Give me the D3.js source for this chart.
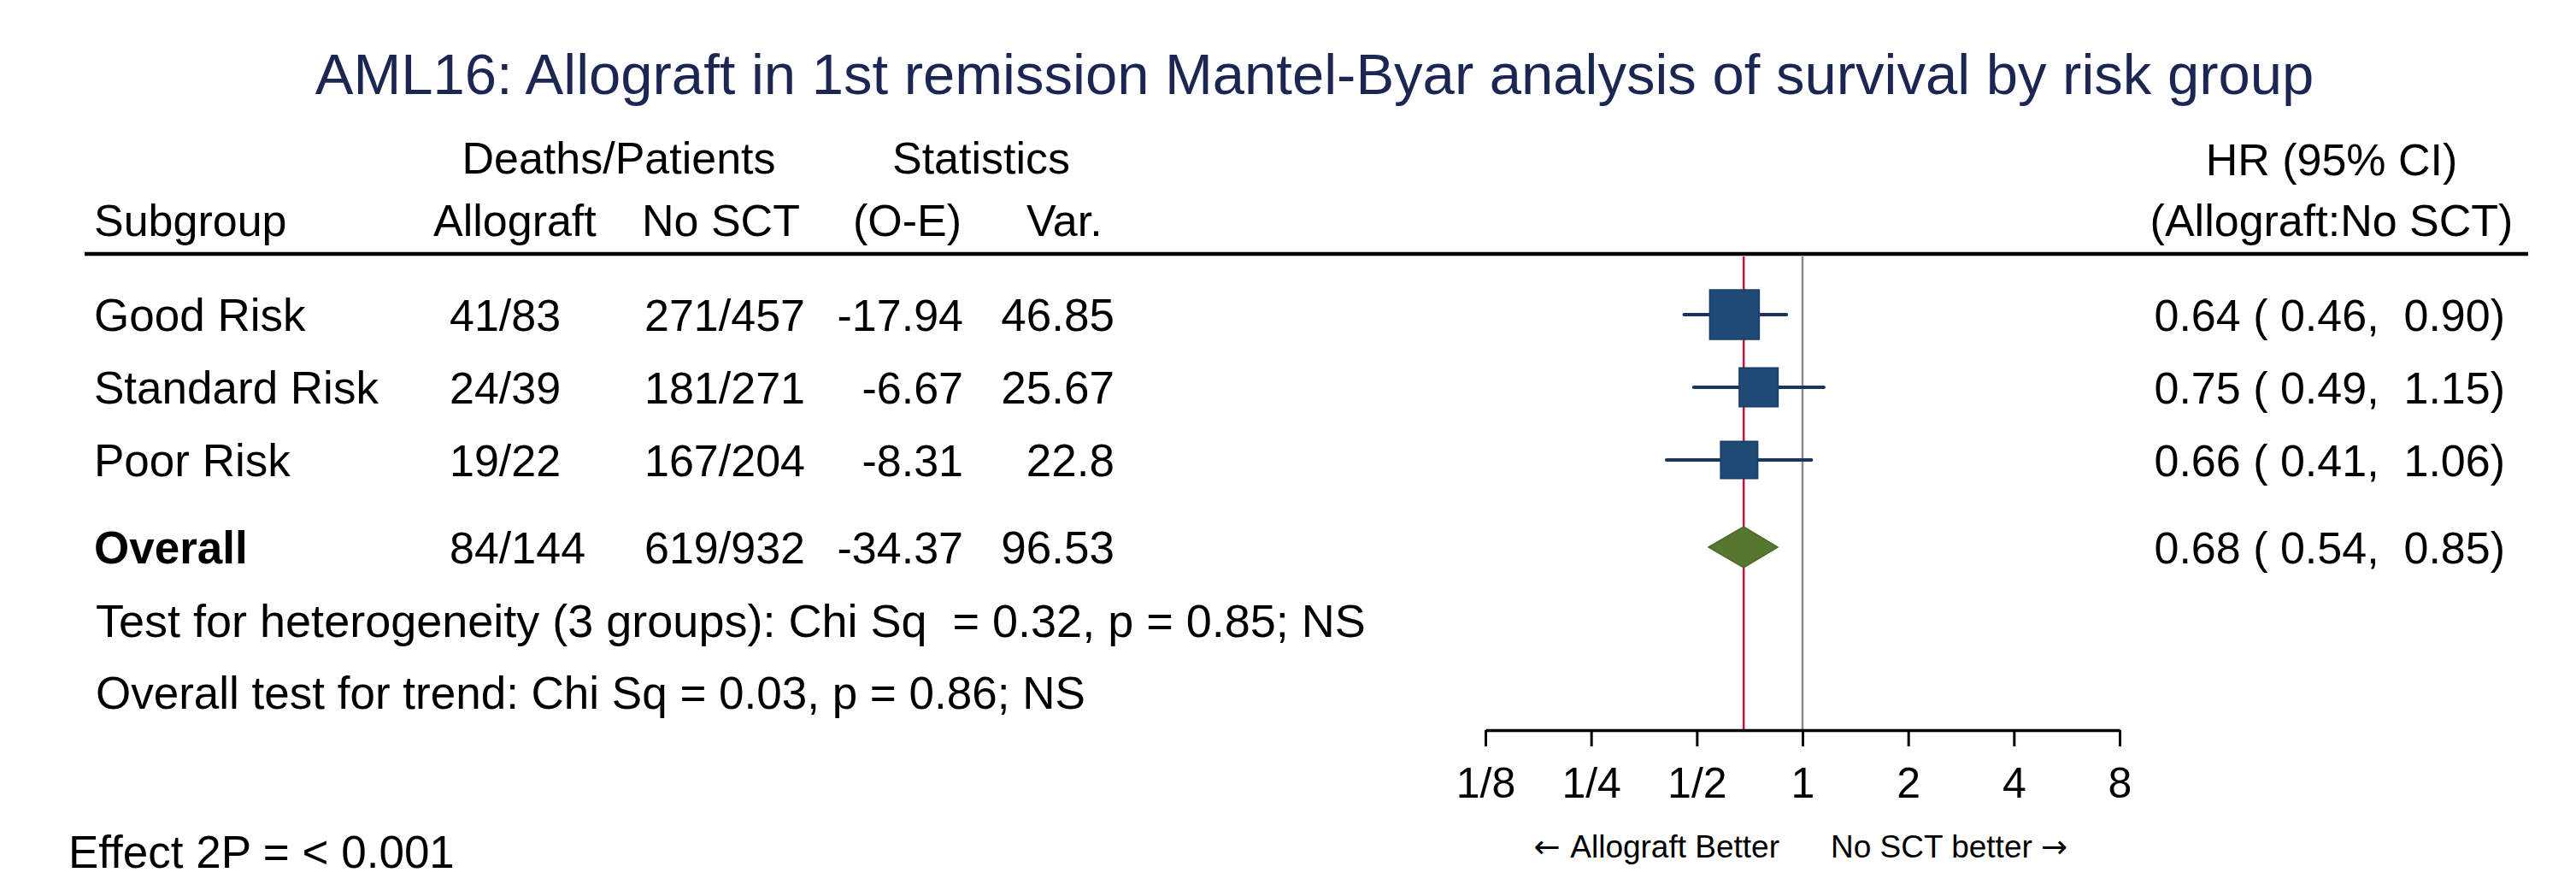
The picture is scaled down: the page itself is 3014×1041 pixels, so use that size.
<!DOCTYPE html>
<html>
<head>
<meta charset="utf-8">
<script src="https://cdn.jsdelivr.net/npm/d3@7"></script>
<style>
  body { margin: 0; background: #fff; }
  text { font-family: "Liberation Sans", Arial, sans-serif; fill: #000; }
</style>
</head>
<body>
<div id="chart1"></div>
<script>

let subgroups = ['Good Risk', 'Standard Risk', 'Poor Risk', 'Overall'];
let allograftDP = ['41/83', '24/39', '19/22', '84/144'];
let noSctDP = ['271/457', '181/271', '167/204', '619/932'];
let oMinusE = ['-17.94', '-6.67', '-8.31', '-34.37'];
let variance = [46.85, 25.67, 22.8, 96.53];
let hr = [0.64, 0.75, 0.66, 0.68];
let ciLow = [0.46, 0.49, 0.41, 0.54];
let ciHigh = [0.90, 1.15, 1.06, 0.85];

let tickValues = [1/8, 1/4, 1/2, 1, 2, 4, 8];
let tickLabels = ['1/8', '1/4', '1/2', '1', '2', '4', '8'];

let title = 'AML16: Allograft in 1st remission Mantel-Byar analysis of survival by risk group';
let heterogeneity = 'Test for heterogeneity (3 groups): Chi Sq  = 0.32, p = 0.85; NS';
let trend = 'Overall test for trend: Chi Sq = 0.03, p = 0.86; NS';
let effect = 'Effect 2P = < 0.001';


let dim = {
    'width': 3014,
    'height': 1041
};

let svg = d3.select("#chart1").append("svg")
     .attr('width', dim.width)
     .attr('height', dim.height);

let fmt = d3.format('5.2f');

let data = subgroups.map((s, i) => ({
     name: s,
     allo: allograftDP[i],
     nosct: noSctDP[i],
     oe: oMinusE[i],
     v: variance[i],
     hr: hr[i],
     lo: ciLow[i],
     hi: ciHigh[i],
     overall: s == 'Overall'
}));

let scaleX = d3.scaleLog()
     .base(2)
     .domain([1/8, 8])
     .range([1738, 2480]);

// row index -> centre of the row, overall row pushed down a bit
let scaleRow = d3.scaleLinear()
     .domain([0, 1])
     .range([368, 453]);

function rowY(d, i) {
     return scaleRow(d.overall ? i + 0.2 : i);
}

let boxSize = d3.scaleSqrt()
     .domain([0, d3.max(data.filter(d => !d.overall), d => d.v)])
     .range([10, 58]);


// title
svg.append('text')
     .attr('x', 1538)
     .attr('y', 110)
     .attr('text-anchor', 'middle')
     .style('font-size', '67px')
     .style('fill', '#1b2653')
     .text(title);

// column headers
let headers = [
     {t: 'Deaths/Patients', x: 724, y: 203, a: 'middle'},
     {t: 'Statistics', x: 1148, y: 203, a: 'middle'},
     {t: 'HR (95% CI)', x: 2728, y: 205, a: 'middle'},
     {t: 'Subgroup', x: 110, y: 276, a: 'start'},
     {t: 'Allograft', x: 507, y: 276, a: 'start'},
     {t: 'No SCT', x: 751, y: 276, a: 'start'},
     {t: '(O-E)', x: 998, y: 276, a: 'start'},
     {t: 'Var.', x: 1201, y: 276, a: 'start'},
     {t: '(Allograft:No SCT)', x: 2728, y: 276, a: 'middle'}
];

svg.selectAll('.header')
     .data(headers)
     .join('text')
     .attr('class', 'header')
     .attr('x', d => d.x)
     .attr('y', d => d.y)
     .attr('text-anchor', d => d.a)
     .style('font-size', '52px')
     .text(d => d.t);

svg.append('line')
     .attr('x1', 99)
     .attr('x2', 2958)
     .attr('y1', 297)
     .attr('y2', 297)
     .attr('stroke', '#000')
     .attr('stroke-width', 4.5);


// reference lines
let axisY = 854;

svg.append('line')
     .attr('x1', scaleX(1))
     .attr('x2', scaleX(1))
     .attr('y1', 300)
     .attr('y2', axisY)
     .attr('stroke', '#8a8a8a')
     .attr('stroke-width', 2.5);

let overallRow = data.find(d => d.overall);

svg.append('line')
     .attr('x1', scaleX(overallRow.hr))
     .attr('x2', scaleX(overallRow.hr))
     .attr('y1', 300)
     .attr('y2', axisY)
     .attr('stroke', '#c8143c')
     .attr('stroke-width', 2.5);


// table rows
let rows = svg.selectAll('.row')
     .data(data)
     .join('g')
     .attr('class', 'row')
     .attr('transform', (d, i) => `translate(0, ${rowY(d, i) + 19})`);

rows.append('text')
     .attr('x', 110)
     .style('font-size', '53px')
     .style('font-weight', d => d.overall ? 'bold' : 'normal')
     .text(d => d.name);

rows.append('text')
     .attr('x', 526)
     .style('font-size', '52px')
     .text(d => d.allo);

rows.append('text')
     .attr('x', 848)
     .attr('text-anchor', 'middle')
     .style('font-size', '52px')
     .text(d => d.nosct);

rows.append('text')
     .attr('x', 1127)
     .attr('text-anchor', 'end')
     .style('font-size', '52px')
     .text(d => d.oe);

rows.append('text')
     .attr('x', 1304)
     .attr('text-anchor', 'end')
     .style('font-size', '53px')
     .text(d => d.v);

rows.append('text')
     .attr('x', 2931)
     .attr('text-anchor', 'end')
     .attr('xml:space', 'preserve')
     .style('white-space', 'pre')
     .style('font-size', '52px')
     .text(d => `${d.hr.toFixed(2)} (${fmt(d.lo)}, ${fmt(d.hi)})`);


// CI lines and boxes
let marks = svg.selectAll('.mark')
     .data(data)
     .join('g')
     .attr('class', 'mark')
     .attr('transform', (d, i) => `translate(0, ${rowY(d, i)})`);

marks.filter(d => !d.overall)
     .append('line')
     .attr('x1', d => scaleX(d.lo))
     .attr('x2', d => scaleX(d.hi))
     .attr('stroke', '#17375e')
     .attr('stroke-width', 4)
     .attr('stroke-linecap', 'round');

marks.filter(d => !d.overall)
     .append('rect')
     .attr('x', d => scaleX(d.hr) - boxSize(d.v) / 2)
     .attr('y', d => -boxSize(d.v) / 2)
     .attr('width', d => boxSize(d.v))
     .attr('height', d => boxSize(d.v))
     .attr('fill', '#1f4a76')
     .attr('stroke', '#183c64')
     .attr('stroke-width', 1.5);

marks.filter(d => d.overall)
     .append('path')
     .attr('d', d => `M${scaleX(d.lo)},0 L${scaleX(d.hr)},-24 L${scaleX(d.hi)},0 L${scaleX(d.hr)},24 Z`)
     .attr('fill', '#56772f')
     .attr('stroke', '#4a6828')
     .attr('stroke-width', 1.5);


// notes
svg.append('text')
     .attr('x', 112)
     .attr('y', 745)
     .attr('xml:space', 'preserve')
     .style('white-space', 'pre')
     .style('font-size', '54px')
     .text(heterogeneity);

svg.append('text')
     .attr('x', 112)
     .attr('y', 829)
     .style('font-size', '53px')
     .text(trend);

svg.append('text')
     .attr('x', 80)
     .attr('y', 1015)
     .style('font-size', '53px')
     .text(effect);


// x axis
let axisX = d3.axisBottom(scaleX)
     .tickValues(tickValues)
     .tickFormat((d, i) => tickLabels[i])
     .tickSizeInner(19)
     .tickSizeOuter(0);

let gAxis = svg.append('g')
     .attr('transform', `translate(0, ${axisY})`)
     .call(axisX);

gAxis.select('.domain')
     .attr('stroke', '#000')
     .attr('stroke-width', 3.5);

gAxis.selectAll('.tick line')
     .attr('stroke', '#000')
     .attr('stroke-width', 3);

gAxis.selectAll('.tick text')
     .attr('y', 79)
     .attr('dy', 0)
     .style('font-size', '50px')
     .style('font-family', '"Liberation Sans", Arial, sans-serif')
     .attr('fill', '#000');

let leftNote = svg.append('text')
     .attr('x', 2082)
     .attr('y', 1003)
     .attr('text-anchor', 'end')
     .style('font-size', '37px');

leftNote.append('tspan')
     .style('font-family', '"DejaVu Sans", sans-serif')
     .text('\u2190 ');

leftNote.append('tspan')
     .text('Allograft Better');

let rightNote = svg.append('text')
     .attr('x', 2142)
     .attr('y', 1003)
     .style('font-size', '37px');

rightNote.append('tspan')
     .text('No SCT better ');

rightNote.append('tspan')
     .style('font-family', '"DejaVu Sans", sans-serif')
     .text('\u2192');

</script>
</body>
</html>
